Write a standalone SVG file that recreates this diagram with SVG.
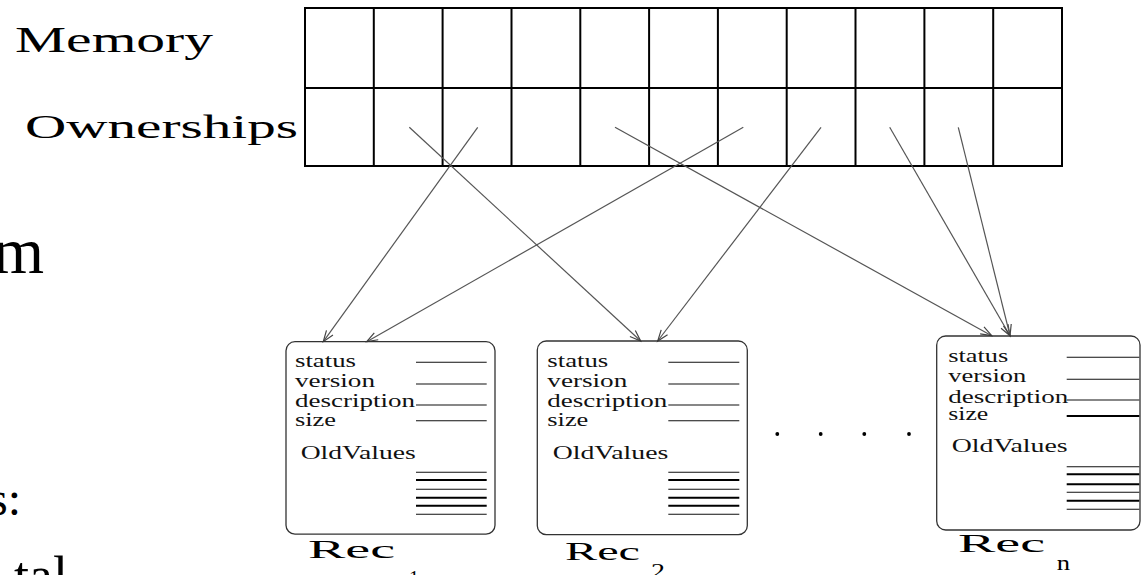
<svg xmlns="http://www.w3.org/2000/svg" width="1145" height="575" viewBox="0 0 1145 575">
<style>
.lbl{font-family:"Liberation Serif","Times New Roman",serif;fill:#000}
.big{font-family:"Liberation Serif","Times New Roman",serif;fill:#000}
.fld{font-family:"Liberation Serif","Times New Roman",serif;font-size:18.5px;fill:#111}
.grid{stroke:#000;stroke-width:2;fill:none}
.box{fill:none;stroke:#333;stroke-width:1.3}
.thin{stroke:#111;stroke-width:1.1}
.thick{stroke:#000;stroke-width:2}
.conn{stroke:#555;stroke-width:1.2;fill:none}
</style>
<defs>
<marker id="arr" markerUnits="userSpaceOnUse" markerWidth="14" markerHeight="12" refX="12" refY="6" orient="auto" viewBox="0 0 14 12">
<path d="M1,2 L12,6 L1,10" fill="none" stroke="#444" stroke-width="1.2"/>
</marker>
</defs>
<rect width="1145" height="575" fill="#fff"/>

<g id="side-text">
<text class="big" x="44" y="273" font-size="66" text-anchor="end">m</text>
<text class="big" x="21" y="515" font-size="48" text-anchor="end">s:</text>
<text class="big" x="14" y="594" font-size="54">tal</text>
</g>

<g id="memory-grid">
<text class="lbl" x="15" y="52" font-size="35" textLength="198" lengthAdjust="spacingAndGlyphs">Memory</text>
<text class="lbl" x="25" y="138" font-size="34" textLength="273" lengthAdjust="spacingAndGlyphs">Ownerships</text>
<rect class="grid" x="305" y="8" width="757" height="158"/>
<line class="grid" x1="305" y1="88" x2="1062" y2="88"/>
<path class="grid" d="M373.8,8V166M442.6,8V166M511.5,8V166M580.3,8V166M649.1,8V166M717.9,8V166M786.7,8V166M855.5,8V166M924.4,8V166M993.2,8V166"/>
</g>

<g id="connectors">
<line class="conn" x1="409.3" y1="127.3" x2="640.7" y2="341" marker-end="url(#arr)"/>
<line class="conn" x1="477.7" y1="127.3" x2="323.3" y2="341.7" marker-end="url(#arr)"/>
<line class="conn" x1="615" y1="127.3" x2="991.7" y2="335.7" marker-end="url(#arr)"/>
<line class="conn" x1="743.3" y1="127.3" x2="366.7" y2="341.7" marker-end="url(#arr)"/>
<line class="conn" x1="821" y1="127.3" x2="657.7" y2="341" marker-end="url(#arr)"/>
<line class="conn" x1="889.7" y1="127.3" x2="1010" y2="335.7" marker-end="url(#arr)"/>
<line class="conn" x1="958.3" y1="127.3" x2="1010" y2="335.7" marker-end="url(#arr)"/>
</g>

<g id="rec1">
<rect class="box" x="286" y="341.7" width="209" height="192.5" rx="9"/>
<text class="fld" x="295" y="367" textLength="61" lengthAdjust="spacingAndGlyphs">status</text>
<text class="fld" x="295" y="387" textLength="80" lengthAdjust="spacingAndGlyphs">version</text>
<text class="fld" x="295" y="407" textLength="120" lengthAdjust="spacingAndGlyphs">description</text>
<text class="fld" x="295" y="425.5" textLength="41" lengthAdjust="spacingAndGlyphs">size</text>
<text class="fld" x="300.7" y="459" textLength="115" lengthAdjust="spacingAndGlyphs">OldValues</text>
<path class="thin" d="M416,362.3H486.7M416,384H486.7M416,405H486.7M416,420.7H486.7M416,472.3H486.7M416,489.3H486.7M416,514.3H486.7"/>
<path class="thick" d="M416,480H486.7M416,497.7H486.7M416,505.7H486.7"/>
<text class="lbl" x="308" y="558" font-size="26" textLength="87" lengthAdjust="spacingAndGlyphs">Rec</text>
<text class="lbl" x="409" y="585" font-size="20">1</text>
</g>

<g id="rec2">
<rect class="box" x="537.3" y="341" width="210" height="193.7" rx="9"/>
<text class="fld" x="547.3" y="367" textLength="61" lengthAdjust="spacingAndGlyphs">status</text>
<text class="fld" x="547.3" y="387" textLength="80" lengthAdjust="spacingAndGlyphs">version</text>
<text class="fld" x="547.3" y="407" textLength="120" lengthAdjust="spacingAndGlyphs">description</text>
<text class="fld" x="547.3" y="425.5" textLength="41" lengthAdjust="spacingAndGlyphs">size</text>
<text class="fld" x="552.7" y="459" textLength="115.6" lengthAdjust="spacingAndGlyphs">OldValues</text>
<path class="thin" d="M668.3,362.3H739.3M668.3,384H739.3M668.3,405H739.3M668.3,420.7H739.3M668.3,472.3H739.3M668.3,489.3H739.3M668.3,514.3H739.3"/>
<path class="thick" d="M668.3,480H739.3M668.3,497.7H739.3M668.3,505.7H739.3"/>
<text class="lbl" x="565" y="560" font-size="26" textLength="75" lengthAdjust="spacingAndGlyphs">Rec</text>
<text class="lbl" x="651" y="578" font-size="20" textLength="14" lengthAdjust="spacingAndGlyphs">2</text>
</g>

<g id="ellipsis">
<circle cx="777.3" cy="434" r="1.9" fill="#000"/>
<circle cx="820.7" cy="434" r="1.9" fill="#000"/>
<circle cx="864.3" cy="434" r="1.9" fill="#000"/>
<circle cx="909" cy="434" r="1.9" fill="#000"/>
</g>

<g id="recn">
<rect class="box" x="936.7" y="336" width="203.3" height="194" rx="9"/>
<text class="fld" x="948.3" y="361.7" textLength="60" lengthAdjust="spacingAndGlyphs">status</text>
<text class="fld" x="948.3" y="382.3" textLength="78" lengthAdjust="spacingAndGlyphs">version</text>
<text class="fld" x="948.3" y="403.3" textLength="120" lengthAdjust="spacingAndGlyphs">description</text>
<text class="fld" x="948.3" y="420" textLength="40" lengthAdjust="spacingAndGlyphs">size</text>
<text class="fld" x="951.7" y="451.7" textLength="116" lengthAdjust="spacingAndGlyphs">OldValues</text>
<path class="thin" d="M1066.7,357.3H1139.3M1066.7,379.3H1139.3M1066.7,400H1139.3M1066.7,466.7H1139.3M1066.7,492.3H1139.3M1066.7,509.3H1139.3"/>
<path class="thick" d="M1066.7,416H1139.3M1066.7,474.3H1139.3M1066.7,484.3H1139.3M1066.7,500.7H1139.3"/>
<text class="lbl" x="958" y="551.7" font-size="26" textLength="87" lengthAdjust="spacingAndGlyphs">Rec</text>
<text class="lbl" x="1056.7" y="570" font-size="20" textLength="13.3" lengthAdjust="spacingAndGlyphs">n</text>
</g>
</svg>
